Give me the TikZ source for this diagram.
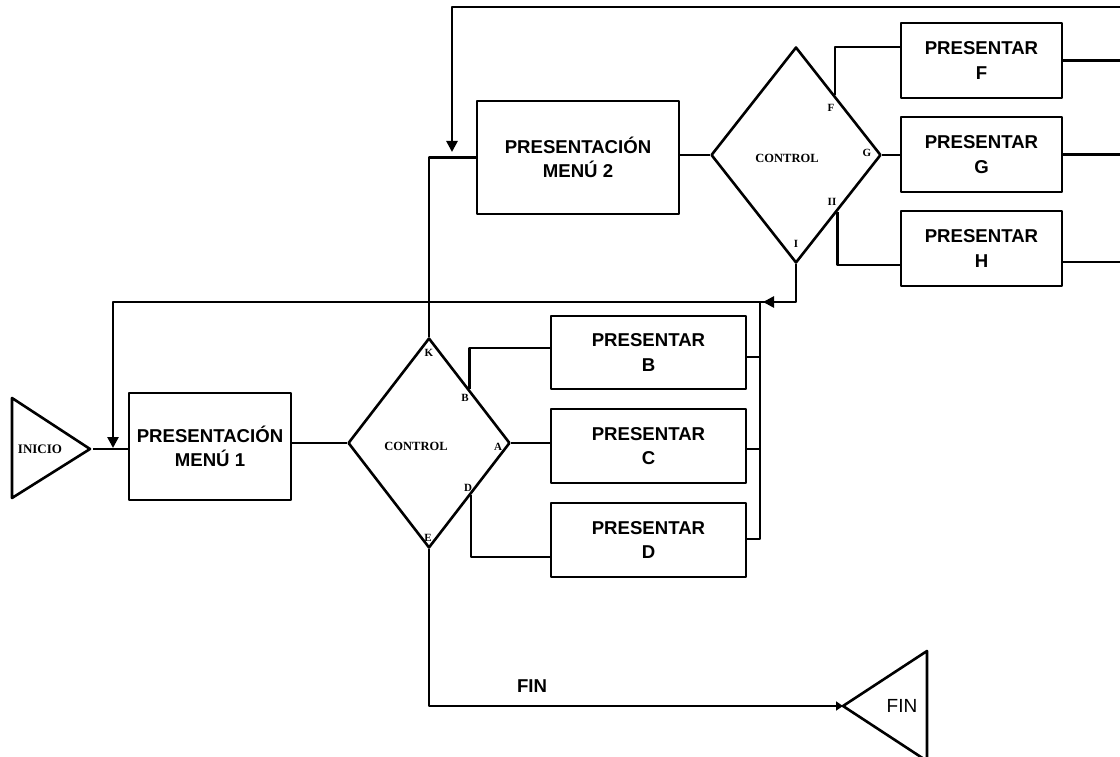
\documentclass[tikz,border=0pt]{standalone}
\usepackage{fontspec}
\setmainfont{Liberation Serif}
\setsansfont{Liberation Sans}
\usetikzlibrary{shapes.geometric,calc,arrows.meta}
\begin{document}
\begin{tikzpicture}[x=1pt,y=-1pt,
  line width=2.6pt, line join=round,
  proc/.style={draw, rectangle, inner sep=0pt, align=center,
    font=\sffamily\bfseries\fontsize{18.6}{24.5}\selectfont},
  ctrl/.style={draw, diamond, inner sep=0pt},
  ctrltxt/.style={inner sep=0pt, font=\rmfamily\bfseries\fontsize{12.5}{14}\selectfont},
  lbl/.style={inner sep=0pt, font=\rmfamily\bfseries\fontsize{11}{12}\selectfont},
  term/.style={inner sep=0pt},
  arr/.style={-{Triangle[length=11pt,width=11pt]}},
  smallarr/.style={-{Triangle[length=7pt,width=9pt]}},
]
\useasboundingbox (0,0) rectangle (1120,757);
\clip (0,0) rectangle (1120,757);

% ---- start terminal ----
\coordinate (iniTip) at (90,449);
\draw (12,398) -- (iniTip) -- (12,498) -- cycle;
\node[term, font=\rmfamily\bfseries\fontsize{13}{14}\selectfont] (iniT) at (40,449) {INICIO};

% ---- main menu ----
\node[proc, minimum width=162, minimum height=107] (m1) at (210,446.5) {PRESENTACIÓN\\MENÚ 1};
\node[ctrl, minimum width=162, minimum height=210] (c1) at (429,443) {};
\node[ctrltxt] (c1t) at (416,446) {CONTROL};

\node[proc, minimum width=195, minimum height=73] (bB) at (648.5,352.5) {PRESENTAR\\B};
\node[proc, minimum width=195, minimum height=74] (bC) at (648.5,446) {PRESENTAR\\C};
\node[proc, minimum width=195, minimum height=74] (bD) at (648.5,540) {PRESENTAR\\D};

% ---- second menu ----
\node[proc, minimum width=202, minimum height=113] (m2) at (578,157.5) {PRESENTACIÓN\\MENÚ 2};
\node[ctrl, minimum width=170, minimum height=216] (c2) at (796,155) {};
\node[ctrltxt] (c2t) at (787,158) {CONTROL};

\node[proc, minimum width=161, minimum height=75] (bF) at (981.5,60.5) {PRESENTAR\\F};
\node[proc, minimum width=161, minimum height=75] (bG) at (981.5,154.5) {PRESENTAR\\G};
\node[proc, minimum width=161, minimum height=75] (bH) at (981.5,248.5) {PRESENTAR\\H};

% ---- end terminal ----
\coordinate (finTip) at (843,706);
\draw (finTip) -- (927,651) -- (927,761) -- cycle;
\node[term, font=\sffamily\fontsize{19}{20}\selectfont] (finT) at (902,706) {FIN};

% ---- helper coordinates ----
\coordinate (loopY) at (0,302);
\coordinate (colTop) at (760,302);
\coordinate (topR) at (1125,7);
\coordinate (rightEdge) at (1125,0);
\coordinate (m1in) at (113,448);
\coordinate (m2in) at (452,152);

% ---- connectors, first menu ----
\draw ($(iniTip)+(3,0)$) -- (iniTip -| m1.west);
\draw (c1.west -| m1.east) -- (c1.west);
\draw (c1.east) -- (c1.east -| bC.west);
\coordinate (cB) at ($(c1.north)!0.49!(c1.east)$);
\draw (cB) |- ([yshift=4.5pt]bB.west);
\coordinate (cD) at ($(c1.east)!0.49!(c1.south)$);
\draw (cD) |- ([yshift=-17pt]bD.west);
\draw (c1.north) |- (m2.west);
\draw[smallarr] (c1.south) |- (finTip);
\node[term, font=\sffamily\bfseries\fontsize{18.6}{20}\selectfont] (finL) at (532,686) {FIN};

% collector of B, C, D back to the main menu
\draw ([yshift=-4.5pt]bB.east) -| (colTop);
\draw ([yshift=-3pt]bC.east) -| (colTop);
\draw ([yshift=1pt]bD.east) -| (colTop);

% ---- connectors, second menu ----
\draw (c2.west -| m2.east) -- (c2.west);
\draw (c2.east) -- (c2.east -| bG.west);
\coordinate (cF) at ($(c2.north)!0.45!(c2.east)$);
\draw (cF) |- ([yshift=13.5pt]bF.west);
\coordinate (cH) at ($(c2.east)!0.52!(c2.south)$);
\draw (cH) |- ([yshift=-16.5pt]bH.west);

\draw (bF.east) -- (bF.east -| rightEdge);
\draw (bG.east) -- (bG.east -| rightEdge);
\draw ([yshift=-13.5pt]bH.east) -- ([yshift=-13.5pt]bH.east -| rightEdge);

% return loops
\draw[arr] (topR) -| (m2in);
\draw[arr] (c2.south) |- (loopY -| m1in) -- (m1in);
\draw[arr] (c2.south |- loopY) -- ($(colTop)+(3,0)$);

% ---- exit labels ----
\node[lbl] (lK) at (429,353) {K};
\node[lbl] (lB) at (465,398) {B};
\node[lbl] (lA) at (498,447) {A};
\node[lbl] (lD) at (468,488) {D};
\node[lbl] (lE) at (428,538) {E};
\node[lbl] (lF) at (831,108) {F};
\node[lbl] (lG) at (867,153) {G};
\node[lbl] (lII) at (832,202) {II};
\node[lbl] (lI) at (796,244) {I};
\end{tikzpicture}
\end{document}
